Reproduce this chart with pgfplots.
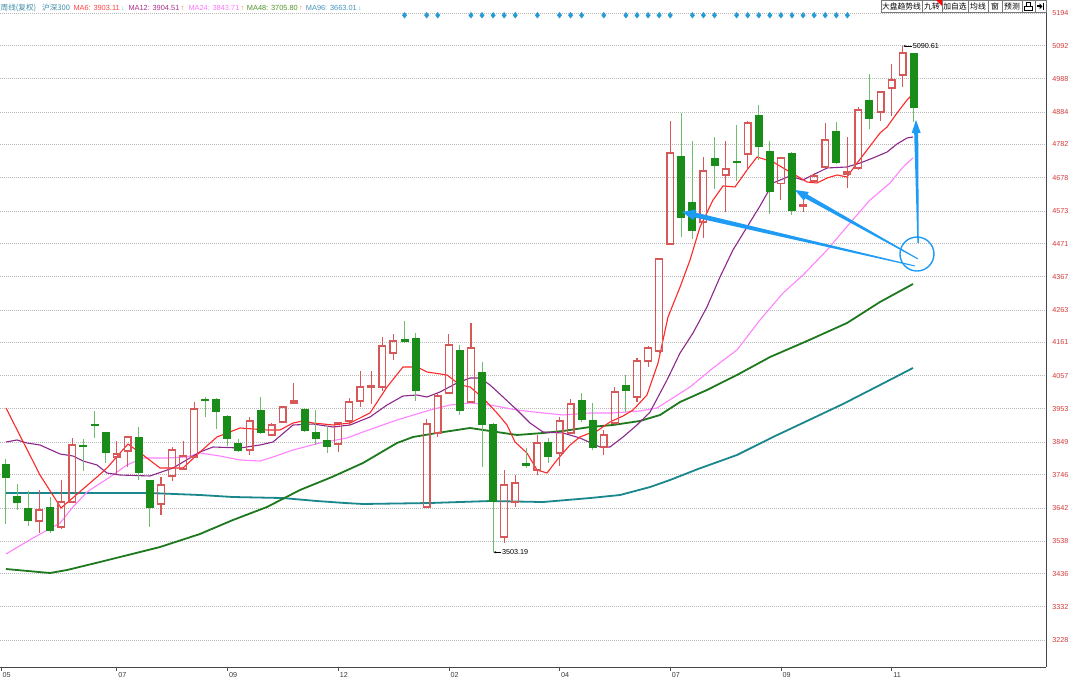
\documentclass[border=0pt]{standalone}
\usepackage{pgfplots}
\pgfplotsset{compat=1.18}
\usepackage{pgfplotstable}
\usepackage{fontspec}
\setmainfont{Liberation Sans}
\newfontfamily\cjk{Noto Sans CJK SC}
\usetikzlibrary{calc,arrows.meta}

\definecolor{upc}{RGB}{214,88,88}
\definecolor{dnc}{RGB}{26,140,26}
\definecolor{dnw}{RGB}{110,190,110}
\definecolor{ma6}{RGB}{255,40,40}
\definecolor{ma12}{RGB}{140,40,140}
\definecolor{ma24}{RGB}{255,130,255}
\definecolor{ma48}{RGB}{30,120,30}
\definecolor{ma96}{RGB}{25,135,140}
\definecolor{lab}{RGB}{210,60,60}
\definecolor{dia}{RGB}{40,155,215}
\definecolor{ann}{RGB}{30,155,245}
\definecolor{c1}{RGB}{60,140,170}
\definecolor{t6}{RGB}{255,70,70}
\definecolor{t12}{RGB}{170,50,140}
\definecolor{t24}{RGB}{255,120,255}
\definecolor{t48}{RGB}{80,150,40}
\definecolor{t96}{RGB}{70,150,190}
\definecolor{aup}{RGB}{255,120,60}
\definecolor{adn}{RGB}{80,200,240}
\definecolor{axc}{RGB}{70,70,70}
\definecolor{tkc}{RGB}{80,80,80}
\definecolor{xlc}{RGB}{60,60,60}
\definecolor{grc}{RGB}{185,185,185}
\definecolor{btc}{RGB}{120,120,120}

\pgfplotstableread{
i O H L C
4 3601.2 3698.4 3563.6 3635.7
6 3582.4 3729.8 3576.1 3660.8
7 3660.8 3861.4 3657.6 3839.5
11 3801.9 3852.0 3748.6 3811.3
12 3820.7 3867.7 3770.5 3864.6
15 3654.5 3739.2 3620.0 3714.1
16 3742.3 3833.2 3726.6 3823.8
17 3764.2 3852.0 3761.1 3805.0
18 3801.9 3974.3 3800.0 3952.4
23 3823.8 3927.3 3808.1 3914.8
25 3870.9 3908.5 3867.7 3902.2
26 3911.6 3961.8 3908.5 3958.7
27 3971.2 4033.9 3970.0 3977.5
31 3842.6 3910.0 3817.5 3908.5
32 3914.8 3986.9 3899.1 3974.3
33 3977.5 4071.5 3958.7 4021.4
34 4021.4 4071.5 3968.1 4024.5
35 4021.4 4178.1 4008.8 4149.9
36 4128.0 4187.5 4106.0 4165.6
39 3645.1 3921.0 3642.0 3905.3
40 3877.1 4002.5 3864.6 3993.1
41 4002.5 4187.5 4000.0 4153.1
43 3974.3 4222.0 3972.0 4143.7
46 3551.0 3761.1 3532.2 3714.1
47 3660.8 3745.4 3645.1 3720.4
49 3761.1 3870.9 3745.4 3845.8
51 3814.4 3927.3 3773.6 3914.8
52 3877.1 3983.7 3875.0 3968.1
55 3833.2 3886.5 3808.1 3870.9
56 3908.5 4021.4 3902.2 4005.7
58 3990.0 4112.3 3974.3 4102.9
59 4102.9 4149.9 4084.1 4143.7
60 4134.2 4425.9 4128.0 4422.7
61 4469.8 4855.4 4468.0 4755.1
64 4538.7 4742.6 4488.6 4698.7
66 4686.1 4792.7 4570.1 4705.0
68 4752.0 4855.4 4701.8 4849.2
71 4658.4 4742.6 4608.1 4739.4
73 4589.0 4607.7 4570.1 4592.1
74 4667.3 4692.4 4661.0 4683.0
75 4711.2 4849.2 4708.1 4795.9
77 4689.2 4805.3 4645.3 4695.5
78 4708.1 4899.3 4701.8 4889.9
80 4883.7 4949.5 4855.4 4946.4
81 4958.9 5034.2 4871.1 4984.0
82 4999.7 5090.61 4962.0 5068.7
}\up

\pgfplotstableread{
i O H L C
1 3779.9 3795.6 3591.8 3736.0
2 3679.6 3717.2 3635.7 3657.6
3 3642.0 3695.3 3585.5 3601.2
5 3645.1 3676.4 3563.6 3569.8
8 3839.5 3858.3 3758.0 3833.2
9 3905.3 3946.1 3861.4 3899.1
10 3880.3 3881.5 3783.1 3814.4
13 3864.6 3895.9 3729.8 3751.7
14 3729.8 3731.0 3582.4 3642.0
19 3983.7 3990.0 3927.3 3977.5
20 3983.7 3986.9 3889.7 3943.0
21 3930.4 3933.6 3836.4 3858.3
22 3845.8 3858.3 3817.5 3820.7
24 3949.2 3990.0 3875.0 3877.1
28 3952.4 3955.5 3881.0 3883.4
29 3880.3 3949.2 3839.5 3858.3
30 3855.2 3899.1 3814.4 3833.2
37 4171.9 4228.3 4160.0 4162.5
38 4175.0 4190.7 3977.5 4008.8
42 4137.4 4153.1 3933.6 3946.1
44 4068.4 4099.8 3770.5 3902.2
45 3905.3 3907.0 3503.19 3660.8
48 3783.1 3830.1 3767.4 3773.6
50 3848.9 3861.4 3783.1 3801.9
53 3980.6 4002.5 3911.6 3917.9
54 3917.9 3971.2 3823.8 3830.1
57 4027.6 4059.0 3943.0 4008.8
62 4745.7 4880.5 4491.7 4551.3
63 4601.4 4792.7 4485.4 4510.6
65 4739.4 4805.2 4642.2 4714.4
67 4730.1 4842.9 4667.3 4723.8
69 4874.2 4905.6 4733.2 4773.9
70 4761.3 4792.7 4564.0 4633.1
72 4755.1 4757.0 4560.7 4573.2
76 4824.1 4852.3 4722.0 4723.7
79 4921.3 5002.8 4830.3 4861.7
83 5068.7 5070.0 4852.3 4896.2
}\dn

\pgfplotstableread{
x y
1.00 3955.5
4.07 3745.4
5.97 3642.0
9.22 3739.2
10.12 3767.4
12.02 3842.6
13.38 3808.1
14.91 3767.4
16.99 3767.4
18.52 3817.5
20.06 3864.6
22.14 3892.8
24.58 3886.5
25.75 3886.5
26.93 3908.5
27.83 3914.8
28.73 3908.5
30.54 3902.2
32.08 3908.5
33.88 3939.9
35.42 4021.4
36.86 4084.1
38.13 4084.1
39.03 4068.4
40.84 4059.0
42.01 4027.6
42.92 4021.4
44.09 3986.9
45.35 3939.9
46.26 3902.2
46.98 3848.9
48.06 3814.4
48.97 3761.1
49.87 3751.7
50.77 3792.5
51.95 3839.5
52.85 3864.6
53.76 3877.1
54.39 3883.4
55.56 3911.6
56.74 3930.4
57.64 3949.2
58.90 3996.2
59.90 4096.6
60.80 4240.8
61.89 4334.9
62.79 4419.5
63.69 4523.0
64.87 4607.7
65.77 4651.7
66.85 4648.5
67.94 4701.8
68.84 4742.6
70.29 4726.9
71.82 4695.5
73.36 4664.1
74.26 4661.0
75.17 4676.7
76.07 4686.1
76.97 4679.8
77.88 4723.7
78.78 4764.5
79.95 4817.8
80.59 4836.6
81.49 4880.5
82.39 4921.2
82.93 4940.0
}\maA

\pgfplotstableread{
x y
1.00 3848.9
1.99 3855.2
2.90 3845.8
4.07 3839.5
5.88 3811.3
7.05 3805.0
7.96 3789.3
9.22 3776.8
10.12 3751.7
11.30 3745.4
14.01 3742.3
16.09 3767.4
18.52 3817.5
19.70 3833.2
22.14 3830.1
23.95 3839.5
25.12 3848.9
26.93 3902.2
28.73 3905.3
30.54 3895.9
32.08 3902.2
33.88 3927.3
35.42 3964.9
36.86 3993.1
38.13 3996.2
39.03 3990.0
40.20 4005.7
41.74 4033.9
42.92 4049.6
43.82 4049.6
44.72 4027.6
45.90 3990.0
47.16 3949.2
48.33 3908.5
49.51 3880.3
51.32 3877.1
52.85 3861.4
54.66 3833.2
55.56 3833.2
56.74 3864.6
58.00 3902.2
59.18 3943.0
60.71 4043.3
61.89 4128.0
63.06 4190.7
64.32 4272.3
65.50 4366.4
66.67 4451.1
67.94 4523.0
69.11 4588.9
70.29 4661.0
71.82 4682.9
72.99 4670.4
74.26 4692.4
75.17 4708.1
76.97 4711.2
78.15 4723.7
79.32 4739.4
80.59 4758.2
81.49 4783.3
82.39 4802.1
82.93 4805.2
}\maB

\pgfplotstableread{
x y
1.00 3497.7
3.44 3547.9
5.88 3594.9
7.05 3645.1
8.32 3692.1
10.40 3739.2
11.93 3776.8
13.38 3798.8
15.54 3798.8
17.35 3801.9
18.52 3814.4
20.33 3805.0
22.14 3792.5
23.95 3789.3
25.12 3801.9
26.93 3823.8
29.36 3845.8
31.80 3861.4
33.25 3880.3
36.32 3917.9
39.30 3949.2
41.11 3964.9
42.92 3971.2
44.72 3964.9
47.16 3949.2
49.51 3939.9
51.32 3933.6
53.76 3939.9
55.83 3939.9
58.27 3946.1
59.81 3955.5
62.79 4021.4
64.87 4081.0
67.03 4137.4
69.11 4231.4
71.19 4316.1
73.00 4372.5
75.17 4450.9
77.24 4535.6
79.05 4607.7
80.86 4661.0
82.03 4711.2
82.93 4739.4
}\maC

\pgfplotstableread{
x y
1.00 3450.6
4.97 3438.1
6.51 3447.5
9.49 3472.6
13.10 3503.9
14.91 3519.6
18.52 3560.4
21.50 3604.3
24.58 3645.1
27.56 3698.4
30.45 3739.2
33.25 3783.1
36.32 3845.8
37.77 3864.6
39.93 3877.1
42.92 3892.8
44.72 3883.4
47.16 3870.9
49.51 3877.1
51.32 3883.4
53.76 3895.9
55.83 3902.2
58.27 3914.8
60.08 3933.6
61.89 3974.3
64.32 4011.9
67.03 4059.0
70.02 4115.4
73.36 4165.6
76.97 4222.0
79.95 4287.9
82.93 4344.3
}\maD

\pgfplotstableread{
x y
1.00 3688.9
14.01 3688.9
18.52 3682.7
21.50 3676.4
26.02 3673.2
29.09 3663.8
31.62 3657.6
33.25 3654.5
39.30 3657.6
44.72 3663.8
49.51 3660.7
53.76 3673.2
56.47 3682.7
59.18 3707.7
60.98 3729.7
63.51 3764.2
67.03 3808.1
70.29 3864.6
73.36 3914.8
76.61 3968.1
79.95 4027.6
82.93 4081.0
}\maE

\newcommand\taparrow[5]{%
  \coordinate (bb) at ($(#2)!13pt!(#1)$);
  \fill[ann] ($(#1)!#3!90:(#2)$) -- ($(bb)!#4!-90:(#1)$) -- ($(bb)!#5!-90:(#1)$) -- (#2)
    -- ($(bb)!#5!90:(#1)$) -- ($(bb)!#4!90:(#1)$) -- ($(#1)!#3!-90:(#2)$) -- cycle;}

\begin{document}
\begin{tikzpicture}
\path[use as bounding box, fill=white] (0pt,0pt) rectangle (1080pt,683pt);
\begin{axis}[
  at={(0pt,16pt)}, anchor=south west, scale only axis,
  width=1046pt, height=667pt,
  xmin=0.458, xmax=94.95, ymin=3143.4, ymax=5234.8,
  axis x line=bottom, axis y line=right,
  axis line style={-, draw=axc, line width=0.8pt},
  xtick={0.55,11,21,31,41,51,61,71,81},
  xticklabels={05,07,09,12,02,04,07,09,11},
  xticklabel style={anchor=north west, inner sep=0pt, xshift=1.5pt, yshift=-1.5pt,
    font=\fontsize{7.2}{8}\selectfont, text=xlc},
  xtick style={draw=tkc, line width=0.6pt},
  major tick length=4pt, tick align=outside,
  ytick={5194,5092,4988,4884,4782,4678,4573,4471,4367,4263,4161,4057,3953,3849,3746,3642,3538,3436,3332,3228},
  yticklabels={5194,5092,4988,4884,4782,4678,4573,4471,4367,4263,4161,4057,3953,3849,3746,3642,3538,3436,3332,3228},
  yticklabel style={anchor=west, inner sep=0pt, xshift=2pt,
    font=\fontsize{7.2}{8}\selectfont, text=lab},
  ytick style={draw=none},
  ymajorgrids,
  major grid style={draw=grc, line width=0.7pt, dash pattern=on 1pt off 1pt},
]
% moving averages
\addplot[ma96, line width=1.8pt] table[x=x,y=y] {\maE};
\addplot[ma48, line width=1.8pt] table[x=x,y=y] {\maD};
\addplot[ma24, line width=1.1pt] table[x=x,y=y] {\maC};
\addplot[ma12, line width=1.1pt] table[x=x,y=y] {\maB};
\addplot[ma6, line width=1.1pt] table[x=x,y=y] {\maA};

% down candles: wicks and bodies
\addplot[draw=none, error bars/.cd, y dir=plus, y explicit, error mark=none,
  error bar style={draw=dnw, line width=1pt}]
  table[x=i, y=L, y error expr=\thisrow{H}-\thisrow{L}] {\dn};
\addplot[draw=none, error bars/.cd, y dir=plus, y explicit, error mark=none,
  error bar style={draw=dnc, line width=8pt}]
  table[x=i, y=C, y error expr=\thisrow{O}-\thisrow{C}] {\dn};

% up candles: wicks
\addplot[draw=none, error bars/.cd, y dir=plus, y explicit, error mark=none,
  error bar style={draw=upc, line width=1.1pt}]
  table[x=i, y=C, y error expr=\thisrow{H}-\thisrow{C}] {\up};
\addplot[draw=none, error bars/.cd, y dir=plus, y explicit, error mark=none,
  error bar style={draw=upc, line width=1.1pt}]
  table[x=i, y=L, y error expr=\thisrow{O}-\thisrow{L}] {\up};
% up candles: hollow bodies
\addplot[draw=none, error bars/.cd, y dir=plus, y explicit, error mark=none,
  error bar style={draw=upc, line width=1.3pt}]
  table[x expr=\thisrow{i}-0.3026, y=O, y error expr=\thisrow{C}-\thisrow{O}] {\up};
\addplot[draw=none, error bars/.cd, y dir=plus, y explicit, error mark=none,
  error bar style={draw=upc, line width=1.3pt}]
  table[x expr=\thisrow{i}+0.3026, y=O, y error expr=\thisrow{C}-\thisrow{O}] {\up};
\addplot[draw=none, error bars/.cd, x dir=both, x fixed=0.361, error mark=none,
  error bar style={draw=upc, line width=1.3pt}]
  table[x=i, y=O] {\up};
\addplot[draw=none, error bars/.cd, x dir=both, x fixed=0.361, error mark=none,
  error bar style={draw=upc, line width=1.3pt}]
  table[x=i, y=C] {\up};

% signal diamonds
\addplot[only marks, mark=diamond*, mark size=2.9pt, color=dia] coordinates {
(37,5187.0) (39,5187.0) (40,5187.0) (43,5187.0) (44,5187.0) (45,5187.0) (46,5187.0) (47,5187.0)
(49,5187.0) (51,5187.0) (52,5187.0) (53,5187.0) (55,5187.0) (57,5187.0) (58,5187.0) (59,5187.0)
(60,5187.0) (61,5187.0) (63,5187.0) (64,5187.0) (65,5187.0) (67,5187.0) (68,5187.0) (69,5187.0)
(70,5187.0) (71,5187.0) (72,5187.0) (73,5187.0) (74,5187.0) (75,5187.0) (76,5187.0) (77,5187.0)};

% extreme labels
\draw[black, line width=0.5pt, -{Stealth[length=2.5pt,width=2.2pt]}] (axis cs:82.85,5090.61) -- (axis cs:82.05,5090.61);
\node[anchor=west, inner sep=0.5pt, font=\fontsize{7.2}{8}\selectfont] at (axis cs:82.85,5090.61) {5090.61};
\draw[black, line width=0.5pt, -{Stealth[length=2.5pt,width=2.2pt]}] (axis cs:45.75,3503.19) -- (axis cs:45.05,3503.19);
\node[anchor=west, inner sep=0.5pt, font=\fontsize{7.2}{8}\selectfont] at (axis cs:45.75,3503.19) {3503.19};

% annotation anchors
\coordinate (t1) at (axis cs:83.11,4400.7);
\coordinate (h1) at (axis cs:62.07,4570.1);
\coordinate (t2) at (axis cs:83.39,4422.7);
\coordinate (h2) at (axis cs:72.27,4639.0);
\coordinate (t3) at (axis cs:83.39,4472.9);
\coordinate (h3) at (axis cs:83.20,4858.5);
\coordinate (cc) at (axis cs:83.29,4438.3);
\end{axis}

% annotation arrows and circle
\taparrow{t1}{h1}{0.5pt}{2.5pt}{5.5pt}
\taparrow{t2}{h2}{0.5pt}{2.2pt}{5pt}
\taparrow{t3}{h3}{0.7pt}{2pt}{4.5pt}
\draw[ann, line width=1.4pt] (cc) circle (17pt);

% legend line
\node[anchor=base west, inner sep=0pt, font=\cjk\fontsize{7.6}{8}\selectfont, text=c1] at (0.5pt,672.5pt) {周线(复权)};
\node[anchor=base west, inner sep=0pt, font=\cjk\fontsize{7.6}{8}\selectfont, text=c1] at (42pt,672.5pt) {沪深300};
\node[anchor=base west, inner sep=0pt, font=\fontsize{7.4}{8}\selectfont] at (73.3pt,672.5pt) {\textcolor{t6}{MA6: 3903.11}\,\textcolor{adn}{↓}};
\node[anchor=base west, inner sep=0pt, font=\fontsize{7.4}{8}\selectfont] at (128.3pt,672.5pt) {\textcolor{t12}{MA12: 3904.51}\,\textcolor{aup}{↑}};
\node[anchor=base west, inner sep=0pt, font=\fontsize{7.4}{8}\selectfont] at (188.3pt,672.5pt) {\textcolor{t24}{MA24: 3843.71}\,\textcolor{aup}{↑}};
\node[anchor=base west, inner sep=0pt, font=\fontsize{7.4}{8}\selectfont] at (246.7pt,672.5pt) {\textcolor{t48}{MA48: 3705.80}\,\textcolor{aup}{↑}};
\node[anchor=base west, inner sep=0pt, font=\fontsize{7.4}{8}\selectfont] at (305.7pt,672.5pt) {\textcolor{t96}{MA96: 3663.01}\,\textcolor{adn}{↓}};

% top-right buttons
\foreach \a/\b/\t in {881/922/大盘趋势线, 922/942/九转, 942/968/加自选, 968/988/均线, 988/1002/窗, 1002/1022/预测}{
  \draw[draw=btc, fill=white, line width=0.6pt] (\a pt,670.5pt) rectangle (\b pt,683pt);
  \node[font=\cjk\fontsize{7.8}{8}\selectfont, inner sep=0pt] at ({(\a+\b)/2*1pt},676.6pt) {\t};
}
\fill[red] (936pt,683pt) -- (942pt,683pt) -- (942pt,677pt) -- cycle;
\draw[draw=btc, fill=white, line width=0.6pt] (1022pt,670.5pt) rectangle (1035pt,683pt);
\draw[black, line width=0.6pt] (1024.5pt,672.5pt) rectangle (1032.5pt,676.5pt);
\draw[black, line width=0.6pt] (1026.5pt,676.5pt) rectangle (1030.5pt,680.5pt);
\draw[draw=btc, fill=white, line width=0.6pt] (1035pt,670.5pt) rectangle (1046pt,683pt);
\fill[black] (1037pt,675.7pt) rectangle (1039.5pt,677.5pt);
\fill[black] (1039.5pt,673.6pt) -- (1042.5pt,676.6pt) -- (1039.5pt,679.6pt) -- cycle;
\fill[black] (1043pt,673pt) rectangle (1044.2pt,680pt);
\end{tikzpicture}
\end{document}
